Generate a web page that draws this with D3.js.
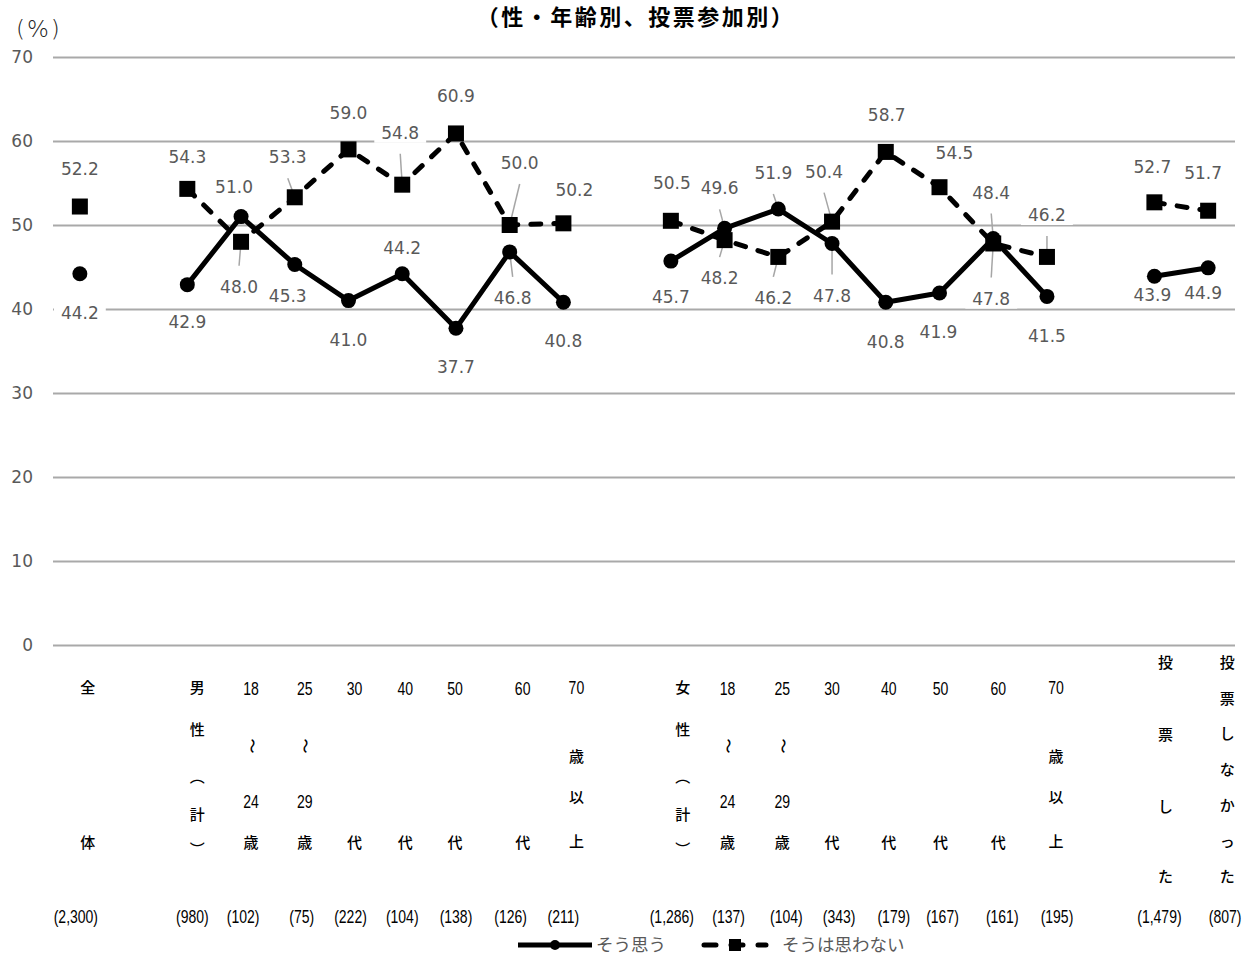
<!DOCTYPE html>
<html><head><meta charset="utf-8">
<script src="https://cdn.jsdelivr.net/npm/d3@7"></script>
<style>body{margin:0;background:#fff} svg{display:block}</style>
</head><body>
<svg id="chart" width="1243" height="955"></svg>
<script>
// ---------------- data ----------------
const titleText = "（性・年齢別、投票参加別）";
const unitText = "(%)";
const categories = ["全体","","男性（計）","18～24歳","25～29歳","30代","40代","50代","60代","70歳以上","",
  "女性（計）","18～24歳","25～29歳","30代","40代","50代","60代","70歳以上","","投票した","投票しなかった"];
const sampleSizes = ["(2,300)","","(980)","(102)","(75)","(222)","(104)","(138)","(126)","(211)","",
  "(1,286)","(137)","(104)","(343)","(179)","(167)","(161)","(195)","","(1,479)","(807)"];
const agreeValues = [44.2,null,42.9,51.0,45.3,41.0,44.2,37.7,46.8,40.8,null,
  45.7,49.6,51.9,47.8,40.8,41.9,48.4,41.5,null,43.9,44.9];
const disagreeValues = [52.2,null,54.3,48.0,53.3,59.0,54.8,60.9,50.0,50.2,null,
  50.5,48.2,46.2,50.4,58.7,54.5,47.8,46.2,null,52.7,51.7];
const seriesNames = ["そう思う","そうは思わない"];
const yTicks = [0,10,20,30,40,50,60,70];

// ---------------- layout ----------------
const plot = {left:53, right:1235, top:57, bottom:645};
// data label placement [dx, dy, leader]
const agreeLabelPos = [[0,39,0],null,[0,37,0],[-7,-30,0],[-7,31,0],[0,39,0],[0,-26,0],[0,39,0],[3,46,1],[0,39,0],null,
  [0,36,0],[-5,-40,1],[-5,-36,1],[0,52,1],[0,40,0],[-1,39,0],[-2,-46,1],[0,39,0],null,[-2,19,0],[-5,25,0]];
const disagreeLabelPos = [[0,-38,0],null,[0,-32,0],[-2,45,1],[-7,-40,1],[0,-37,0],[-2,-52,1],[0,-38,0],[10,-62,1],[11,-33,0],null,
  [1,-38,0],[-5,38,1],[-5,41,1],[-8,-50,1],[1,-37,0],[15,-34,0],[-2,55,1],[0,-42,1],null,[-2,-35,0],[-5,-38,0]];
const catNudge = [8,0,10,10,10,6,3,-1,13,13,0,12,3,4,0,3,1,5,9,0,11,19];
const sizeNudge = [-4,0,5,2,7,2,0,0,1,0,0,1,4,8,7,8,3,9,10,0,5,17];
const rowLayouts = {
  two:[688,843], range:[688,746,801,843], over:[687,757,798,842],
  kana4:[663,735,807,877], five:[688,730,777,815,850], seven:[663,699,734,770,806,842,877]
};

const svg = d3.select("#chart");
const x = d3.scaleBand().domain(d3.range(categories.length)).range([plot.left, plot.right]);
const cx = i => x(i) + x.bandwidth()/2;
const y = d3.scaleLinear().domain([0,70]).range([plot.bottom, plot.top]);
const gray = "#595959";
const numFont = "'DejaVu Sans', Verdana, sans-serif";
const arial = "'Liberation Sans', Arial, sans-serif";
const cjk = "'Noto Sans CJK JP','Noto Sans CJK SC',sans-serif";

// title & unit
svg.append("text").attr("x",636).attr("y",25).attr("text-anchor","middle")
  .style("font-family",cjk).style("font-weight","700").style("font-size","22px")
  .style("letter-spacing","2.5px").attr("fill","#000").text(titleText);
svg.append("text").attr("x",16).attr("y",37)
  .style("font-family","'DejaVu Sans'").style("font-weight","200").style("font-size","23px")
  .style("letter-spacing","2px").attr("fill","#222").text(unitText);

// y axis with gridlines
const yAxis = d3.axisLeft(y).tickValues(yTicks).tickSize(-(plot.right-plot.left)).tickPadding(20);
const gy = svg.append("g").attr("transform",`translate(${plot.left},0)`).call(yAxis);
gy.select(".domain").remove();
gy.selectAll(".tick line").attr("stroke","#a9a9a9").attr("stroke-width",1.8);
gy.selectAll(".tick text").attr("fill",gray).style("font-family",numFont).style("font-size","17px");

// category labels (vertical stacked)
function tokenize(s){
  const out=[]; let buf="";
  for(const ch of s){
    if(/[0-9]/.test(ch)){buf+=ch;continue;}
    if(buf){out.push(buf);buf="";}
    out.push(ch==="（"?"︵":ch==="）"?"︶":ch);
  }
  if(buf)out.push(buf);
  return out;
}
function rowsFor(t){
  if(t.length===2) return rowLayouts.two;
  if(t.length===5) return rowLayouts.five;
  if(t.length===7) return rowLayouts.seven;
  if(t.includes("～")) return rowLayouts.range;
  if(/^\d/.test(t[0])) return rowLayouts.over;
  return rowLayouts.kana4;
}
const gx = svg.append("g");
categories.forEach((c,i)=>{
  if(!c) return;
  const t = tokenize(c), ys = rowsFor(t), px = cx(i)+catNudge[i];
  t.forEach((tok,k)=>{
    const isNum = /\d/.test(tok);
    if(isNum){
      gx.append("text").attr("transform",`translate(${px},${ys[k]}) scale(0.74,1)`).attr("dy","0.36em")
        .attr("text-anchor","middle").attr("fill","#000").style("font-family",arial)
        .style("font-size","19px").text(tok);
      return;
    }
    const el = gx.append("text").attr("x",px).attr("y",ys[k]).attr("dy","0.36em")
      .attr("text-anchor","middle").attr("fill","#000")
      .style("font-family",cjk).style("font-size","15px").style("font-weight","500").text(tok);
    if(tok==="～") el.attr("transform",`rotate(90,${px},${ys[k]})`).attr("dy","0.3em");
  });
});
gx.selectAll(".ss").data(sampleSizes.map((s,i)=>({s,i})).filter(d=>d.s)).join("text")
  .attr("transform",d=>`translate(${cx(d.i)+sizeNudge[d.i]},917) scale(0.8,1)`).attr("dy","0.36em").attr("text-anchor","middle")
  .attr("fill","#000").style("font-family",arial).style("font-size","17.5px").text(d=>d.s);

// series
const series = [
  {name:seriesNames[0], vals:agreeValues, pos:agreeLabelPos, dash:null, marker:"circle"},
  {name:seriesNames[1], vals:disagreeValues, pos:disagreeLabelPos, dash:"10,13", marker:"square"}
];
const gLead = svg.append("g"), gLines = svg.append("g"), gMarks = svg.append("g"), gLabels = svg.append("g");
const line = d3.line().defined(d=>d.v!=null).x(d=>cx(d.i)).y(d=>y(d.v));

series.forEach(s=>{
  const pts = s.vals.map((v,i)=>({v,i}));
  gLines.append("path").datum(pts).attr("d",line).attr("fill","none").attr("stroke","#000")
    .attr("stroke-width",5).attr("stroke-linejoin","round")
    .attr("stroke-linecap",s.dash?"round":"butt").attr("stroke-dasharray",s.dash);
  const valid = pts.filter(d=>d.v!=null);
  if(s.marker==="circle"){
    gMarks.selectAll(null).data(valid).join("circle").attr("cx",d=>cx(d.i)).attr("cy",d=>y(d.v)).attr("r",7.5).attr("fill","#000");
  } else {
    gMarks.selectAll(null).data(valid).join("rect").attr("x",d=>cx(d.i)-8).attr("y",d=>y(d.v)-8)
      .attr("width",16).attr("height",16).attr("fill","#000");
  }
  valid.forEach(d=>{
    const [dx,dy,lead] = s.pos[d.i];
    const lx = cx(d.i)+dx, ly = y(d.v)+dy;
    if(lead){
      gLead.append("line").attr("x1",lx).attr("y1",ly-Math.sign(dy)*21)
        .attr("x2",cx(d.i)).attr("y2",y(d.v)).attr("stroke","#a6a6a6").attr("stroke-width",1.5);
    }
    const g = gLabels.append("g");
    const t = g.append("text").attr("x",lx).attr("y",ly).attr("dy","0.36em").attr("text-anchor","middle")
      .attr("fill",gray).style("font-family",numFont).style("font-size","17px").text(d.v.toFixed(1));
    const b = t.node().getBBox();
    g.insert("rect","text").attr("x",b.x-7).attr("y",b.y+1).attr("width",b.width+14).attr("height",b.height-1).attr("fill","#fff");
  });
});

// legend
const lg = svg.append("g");
const ly0 = 945;
lg.append("line").attr("x1",518).attr("x2",592).attr("y1",ly0).attr("y2",ly0).attr("stroke","#000").attr("stroke-width",5);
lg.append("circle").attr("cx",555).attr("cy",ly0).attr("r",5).attr("fill","#000");
lg.append("text").attr("x",596).attr("y",ly0).attr("dy","0.36em").attr("fill",gray)
  .style("font-family",cjk).style("font-size","17.5px").text(seriesNames[0]);
lg.append("line").attr("x1",704).attr("x2",766).attr("y1",ly0).attr("y2",ly0).attr("stroke","#000").attr("stroke-width",5)
  .attr("stroke-linecap","round").attr("stroke-dasharray","12,15");
lg.append("rect").attr("x",729).attr("y",ly0-6).attr("width",12).attr("height",12).attr("fill","#000");
lg.append("text").attr("x",782).attr("y",ly0).attr("dy","0.36em").attr("fill",gray)
  .style("font-family",cjk).style("font-size","17.5px").text(seriesNames[1]);
</script>
</body></html>
